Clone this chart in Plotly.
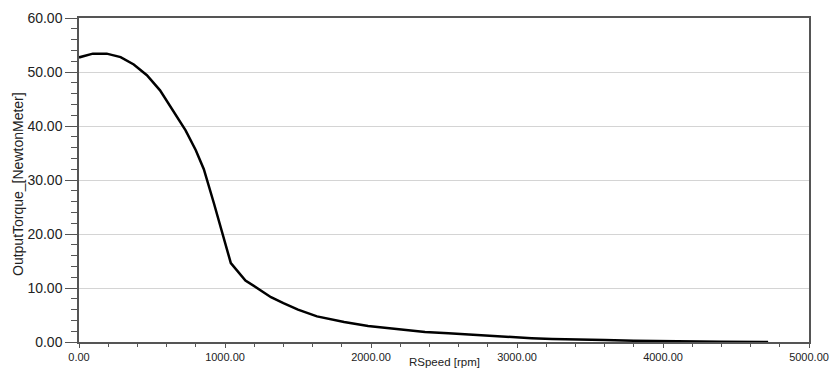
import plotly.graph_objects as go

speed_rpm = [0, 95, 190, 285, 375, 465, 555, 645, 730, 800, 855, 925, 980, 1040,
             1140, 1240, 1315, 1400, 1500, 1630, 1720, 1816, 1980, 2140, 2210, 2370,
             2530, 2690, 2740, 2830, 3000, 3100, 3240, 3420, 3600, 3800, 4000, 4200,
             4400, 4720]
torque_nm = [52.7, 53.4, 53.4, 52.75, 51.4, 49.4, 46.6, 42.9, 39.2, 35.5, 32.0, 25.6,
             20.1, 14.6, 11.4, 9.6, 8.3, 7.2, 6.0, 4.75, 4.2, 3.7, 2.96, 2.5, 2.3, 1.85,
             1.6, 1.35, 1.15, 1.1, 0.85, 0.7, 0.55, 0.4, 0.35, 0.25, 0.15, 0.1, 0.05, 0.0]

x_ticks = [0, 1000, 2000, 3000, 4000, 5000]
x_tick_labels = ["0.00", "1000.00", "2000.00", "3000.00", "4000.00", "5000.00"]
y_ticks = [0, 10, 20, 30, 40, 50, 60]
y_tick_labels = ["0.00", "10.00", "20.00", "30.00", "40.00", "50.00", "60.00"]

x_title = "RSpeed [rpm]"
y_title = "OutputTorque_[NewtonMeter]"

font_family = "Liberation Sans, Arial, sans-serif"

fig = go.Figure()
fig.add_trace(go.Scatter(x=speed_rpm, y=torque_nm, mode="lines",
                         line=dict(color="black", width=2.5), showlegend=False,
                         hoverinfo="x+y"))

W, H = 831, 370
L, R, T, B = 79, 22, 18, 28
pw, ph = W - L - R, H - T - B

fig.update_layout(
    width=W, height=H,
    margin=dict(l=L, r=R, t=T, b=B, pad=0, autoexpand=False),
    paper_bgcolor="white", plot_bgcolor="white",
    font=dict(family=font_family, color="#222"),
    xaxis=dict(
        range=[0, 5000], tickmode="array", tickvals=x_ticks, ticktext=x_tick_labels,
        tickfont=dict(size=11, color="#222", family=font_family),
        ticks="outside", ticklen=4, tickcolor="#555", tickwidth=1,
        minor=dict(dtick=200, ticks="outside", ticklen=3, tickcolor="#555", showgrid=False),
        showgrid=False, zeroline=False, automargin=False,
        showline=True, linecolor="#555", linewidth=1.5, mirror=True,
        fixedrange=True,
    ),
    yaxis=dict(
        range=[0, 60], tickmode="array", tickvals=y_ticks, ticktext=y_tick_labels,
        tickfont=dict(size=14, color="#222", family=font_family),
        ticks="outside", ticklen=12, tickcolor="#555", tickwidth=1,
        minor=dict(dtick=2, ticks="outside", ticklen=6, tickcolor="#555", showgrid=False),
        showgrid=True, gridcolor="#d4d4d4", gridwidth=1, zeroline=False, automargin=False,
        showline=True, linecolor="#555", linewidth=1.5, mirror=True,
        fixedrange=True,
    ),
    annotations=[
        dict(text=x_title, xref="paper", yref="paper",
             x=(444 - L) / pw, y=(H - B - 362) / ph, xanchor="center", yanchor="middle",
             showarrow=False, font=dict(size=11.5, color="#222", family=font_family)),
        dict(text=y_title, xref="paper", yref="paper", textangle=-90,
             x=(18 - L) / pw, y=(H - B - 184) / ph, xanchor="center", yanchor="middle",
             showarrow=False, font=dict(size=14, color="#222", family=font_family)),
    ],
)

fig.write_html("out.html")
